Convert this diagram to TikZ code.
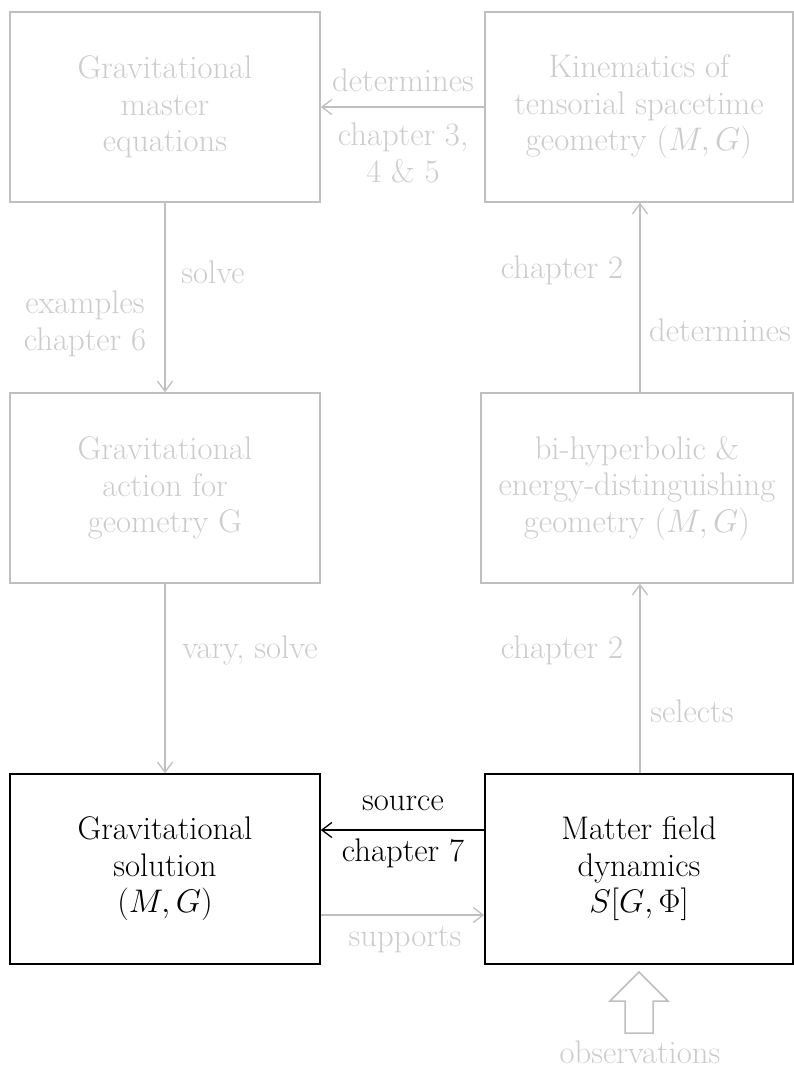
\RequirePackage{fix-cm}
\documentclass[tikz,border=0pt]{standalone}
\usetikzlibrary{arrows.meta}
\definecolor{lineg}{gray}{0.75}
\definecolor{textg}{gray}{0.80}
\tikzset{
  big/.style={font=\fontsize{32.7}{36.5}\selectfont},
  box/.style={draw, line width=1.6pt, align=center, inner sep=0pt, big},
  gbox/.style={box, draw=lineg, text=textg},
  bbox/.style={box, draw=black, text=black},
  lbl/.style={align=center, inner sep=0pt, big, text=textg},
  blbl/.style={lbl, text=black},
  garr/.style={draw=lineg, line width=1.3pt, -{Straight Barb[length=10pt,width=15pt,line width=1.3pt]}},
  barr/.style={draw=black, line width=1.3pt, -{Straight Barb[length=10pt,width=15pt,line width=1.3pt]}},
}
\begin{document}
\begin{tikzpicture}[x=1pt,y=-1pt]
\useasboundingbox (0,0) rectangle (794,1068);
% boxes
\node[gbox, minimum width=310pt, minimum height=190pt] (tl) at (165,107) {Gravitational\\master\\equations};
\node[gbox, minimum width=308pt, minimum height=190pt] (tr) at (639,107) {Kinematics of\\tensorial spacetime\\geometry $(M,G)$};
\node[gbox, minimum width=310pt, minimum height=190pt] (ml) at (165,488) {Gravitational\\action for\\geometry G};
\node[gbox, minimum width=312pt, minimum height=190pt] (mr) at (637,488) {bi-hyperbolic \&\\energy-distinguishing\\geometry $(M,G)$};
\node[bbox, minimum width=310pt, minimum height=190pt] (bl) at (165,869) {Gravitational\\solution\\$(M,G)$};
\node[bbox, minimum width=308pt, minimum height=190pt] (br) at (639,869) {Matter field\\dynamics\\$S[G,\Phi]$};
\coordinate (rx) at (640,0);
\coordinate (ys) at (0,830);
\coordinate (yp) at (0,915);
% connectors
\draw[garr] (tr.west) -- (tl.east);
\draw[garr] (tl.south) -- (ml.north);
\draw[garr] (ml.south) -- (bl.north);
\draw[garr] (br.north -| rx) -- (mr.south -| rx);
\draw[garr] (mr.north -| rx) -- (tr.south -| rx);
\draw[barr] (br.west |- ys) -- (bl.east |- ys);
\draw[garr] (bl.east |- yp) -- (br.west |- yp);
% labels
\node[lbl] (l1) at (403,80) {determines};
\node[lbl] (l2) at (403,153) {chapter 3,\\4 \& 5};
\node[lbl] (l3) at (213,272) {solve};
\node[lbl] (l4) at (85,324) {examples\\chapter 6};
\node[lbl] (l5) at (250,650) {vary, solve};
\node[lbl] (l6) at (562,270) {chapter 2};
\node[lbl] (l7) at (720,330) {determines};
\node[lbl] (l8) at (562,650) {chapter 2};
\node[lbl] (l9) at (692,711) {selects};
\node[blbl] (l10) at (403,803) {source};
\node[blbl] (l11) at (403,853) {chapter 7};
\node[lbl] (l12) at (405,940) {supports};
\node[lbl] (obs) at (640,1052) {observations};
% fat arrow
\draw[lineg, line width=1.5pt, line join=miter] (639,972) -- (668,1001) -- (653,1001) -- (653,1033) -- (625,1033) -- (625,1001) -- (610,1001) -- cycle;
\end{tikzpicture}
\end{document}
